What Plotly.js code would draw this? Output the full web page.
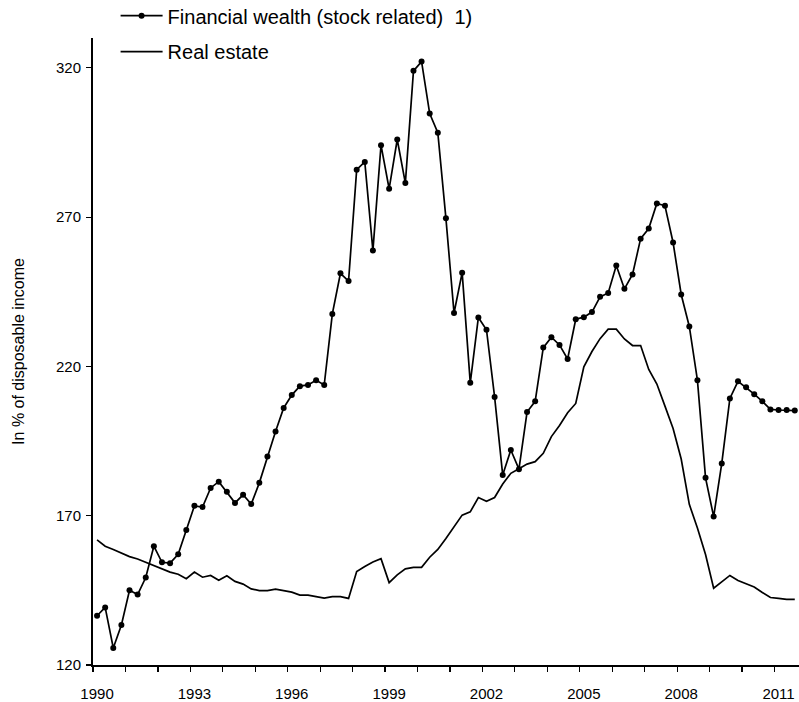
<!DOCTYPE html>
<html>
<head>
<meta charset="utf-8">
<script src="https://cdn.plot.ly/plotly-3.0.1.min.js"></script>
<style>html,body{margin:0;padding:0;background:#fff;}#chart{width:799px;height:702px;}</style>
</head>
<body>
<div id="chart"></div>
<script>
// Quarterly series, 1990 Q1 to 2011 Q3
const startYear = 1990;
const financialWealth = [
  136.5, 139.3, 125.7, 133.4, 145.0, 143.6, 149.3, 159.8, 154.4, 154.1,
  157.1, 165.2, 173.3, 172.9, 179.3, 181.4, 178.0, 174.3, 177.0, 173.9,
  181.0, 189.8, 198.2, 206.1, 210.4, 213.4, 213.8, 215.4, 213.8, 237.6,
  251.2, 248.6, 285.9, 288.5, 258.8, 294.1, 279.5, 296.0, 281.4, 319.0,
  322.1, 304.7, 298.3, 269.6, 237.9, 251.4, 214.5, 236.4, 232.3, 209.8,
  183.6, 192.0, 185.6, 204.7, 208.3, 226.3, 229.8, 227.2, 222.5, 235.8,
  236.5, 238.2, 243.3, 244.6, 253.8, 246.0, 250.8, 262.8, 266.2, 274.6,
  273.8, 261.5, 244.1, 233.4, 215.4, 182.7, 169.7, 187.5, 209.3, 215.0,
  213.0, 210.7, 208.3, 205.6, 205.4, 205.4, 205.2
];
const realEstate = [
  161.9, 159.8, 158.7, 157.4, 156.3, 155.5, 154.4, 153.3, 152.0, 151.1,
  150.4, 148.9, 151.1, 149.4, 150.0, 148.4, 149.9, 148.0, 147.1, 145.5,
  144.9, 144.9, 145.4, 144.8, 144.4, 143.4, 143.4, 142.9, 142.4, 142.9,
  142.9, 142.3, 151.3, 153.0, 154.5, 155.6, 147.6, 150.2, 152.2, 152.7,
  152.7, 156.1, 158.7, 162.4, 166.2, 170.2, 171.3, 176.1, 174.8, 176.1,
  180.6, 184.2, 185.7, 187.3, 188.1, 190.9, 196.5, 200.2, 204.5, 207.6,
  219.9, 225.0, 229.3, 232.5, 232.5, 229.2, 227.0, 227.0, 219.0, 214.1,
  206.7, 199.2, 189.0, 173.8, 165.9, 157.0, 145.7, 148.0, 150.0, 148.3,
  147.2, 146.1, 144.3, 142.6, 142.3, 142.0, 142.0
];
const yearLabels = [1990, 1993, 1996, 1999, 2002, 2005, 2008, 2011];
const yTicks = [120, 170, 220, 270, 320];
const seriesNames = ["Financial wealth (stock related)  1)", "Real estate"];
const yTitle = "In % of disposable income";

const quarters = financialWealth.map((_, i) => startYear + i / 4);
const yearBoundaries = [];
for (let y = 1990; y <= 2011; y++) yearBoundaries.push(y - 0.125);

const FONT = "Liberation Sans, Arial, sans-serif";

const traces = [
  {
    x: quarters, y: financialWealth, name: seriesNames[0],
    type: "scatter", mode: "lines+markers",
    line: {color: "#000", width: 1.7},
    marker: {color: "#000", size: 6},
    legend: "legend", xaxis: "x", yaxis: "y"
  },
  {
    x: quarters, y: realEstate, name: seriesNames[1],
    type: "scatter", mode: "lines",
    line: {color: "#000", width: 1.7},
    legend: "legend2", xaxis: "x2", yaxis: "y"
  }
];

const xRange = [1989.875, 2011.63];

const layout = {
  width: 799, height: 702,
  margin: {l: 93, r: 0, t: 38, b: 37, autoexpand: false},
  paper_bgcolor: "#fff", plot_bgcolor: "#fff",
  font: {family: FONT, color: "#000", size: 15},
  showlegend: true,
  xaxis: {
    range: xRange, tickmode: "array", tickvals: yearBoundaries,
    ticks: "outside", ticklen: 5, tickwidth: 1.2, tickcolor: "#000",
    showticklabels: false, showgrid: false, zeroline: false,
    showline: true, linecolor: "#000", linewidth: 2
  },
  xaxis2: {
    overlaying: "x", matches: "x", anchor: "y", side: "bottom",
    range: xRange, tickmode: "array", tickvals: yearLabels,
    ticks: "", showgrid: false, zeroline: false, showline: false,
    ticklabelstandoff: 18, tickfont: {size: 15, family: FONT}
  },
  yaxis: {
    range: [120, 330], tickmode: "array", tickvals: yTicks,
    ticks: "outside", ticklen: 5, tickwidth: 1.2, tickcolor: "#000",
    showgrid: false, zeroline: false,
    showline: true, linecolor: "#000", linewidth: 2,
    ticklabelstandoff: 2, tickfont: {size: 15, family: FONT},
    title: {text: yTitle, font: {size: 16, family: FONT}, standoff: 27}
  },
  legend: {
    x: 0.032, y: 0.9776, yref: "container", xanchor: "left", yanchor: "middle", itemwidth: 42,
    font: {size: 20, family: FONT}, bgcolor: "rgba(0,0,0,0)", borderwidth: 0
  },
  legend2: {
    x: 0.032, y: 0.9264, yref: "container", xanchor: "left", yanchor: "middle", itemwidth: 42,
    font: {size: 20, family: FONT}, bgcolor: "rgba(0,0,0,0)", borderwidth: 0
  }
};

Plotly.newPlot("chart", traces, layout, {displayModeBar: false, staticPlot: true});
</script>
</body>
</html>
